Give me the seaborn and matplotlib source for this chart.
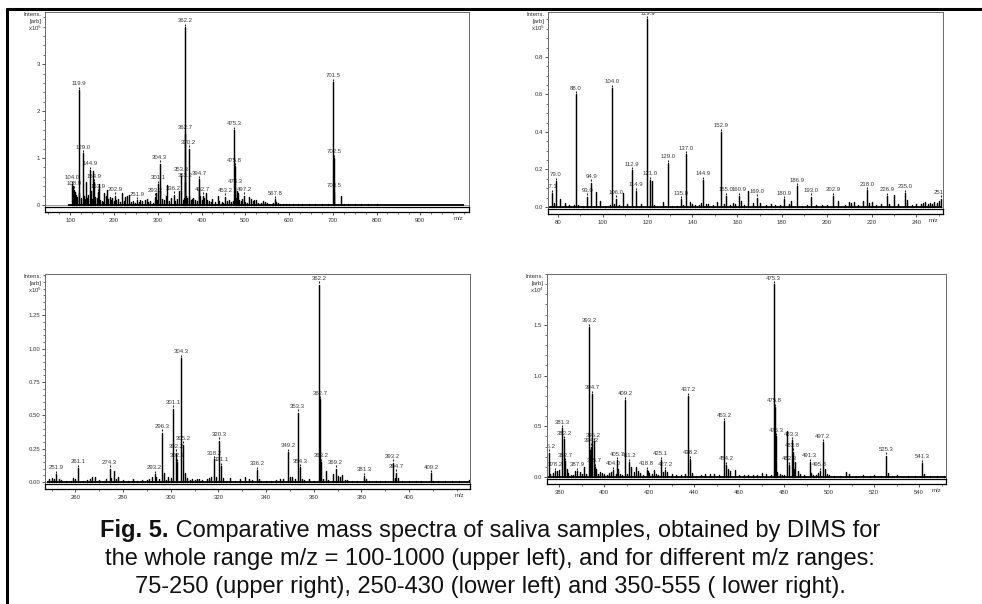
import numpy as np
import pandas as pd
import matplotlib
matplotlib.use("Agg")
import matplotlib.pyplot as plt
import matplotlib.transforms as mtrans
from matplotlib.lines import Line2D
from matplotlib.ticker import MultipleLocator, FixedLocator
import seaborn as sns

# ---------------- data ----------------
# Panel 1: upper left, m/z 100-1000, intensity x10^5
p1_mz = [104.0, 106.0, 108.9, 111.0, 113.0, 116.0, 119.9, 121.0, 124.0, 129.0, 131.0, 134.0, 136.0,
         139.0, 141.0, 144.9, 147.0, 150.0, 152.0, 154.9, 157.0, 160.0, 163.9, 166.0, 169.0, 172.0,
         175.0, 178.0, 181.0, 184.9, 187.0, 190.0, 193.0, 196.0, 199.0, 202.9, 205.0, 210.0, 214.0,
         218.0, 222.0, 226.0, 230.0, 234.0, 238.0, 243.0, 247.0, 251.9, 256.0, 260.0, 265.0, 270.0,
         274.3, 278.0, 283.0, 288.0, 293.2, 296.3, 299.0, 301.1, 304.3, 306.0, 310.0, 315.0, 318.2,
         320.3, 325.0, 330.0, 336.2, 340.0, 345.0, 349.2, 353.3, 357.0, 360.0, 362.2, 362.7, 363.2,
         365.0, 367.0, 370.2, 372.0, 375.0, 378.0, 381.3, 385.0, 389.0, 393.2, 394.7, 397.0, 400.0,
         402.7, 405.0, 409.2, 412.0, 417.0, 421.0, 425.0, 430.0, 437.2, 441.0, 446.0, 449.0, 453.2,
         458.0, 463.0, 468.0, 472.0, 475.3, 475.8, 476.3, 479.0, 481.0, 483.3, 486.0, 490.0, 492.0,
         497.2, 500.0, 503.0, 508.0, 513.0, 517.0, 521.0, 525.3, 530.0, 535.0, 541.3, 545.0, 550.0,
         555.0, 560.0, 564.0, 567.8, 571.0, 575.0, 580.0, 586.0, 592.0, 600.0, 610.0, 620.0, 630.0,
         645.0, 660.0, 675.0, 690.0, 701.5, 702.5, 703.5, 718.5, 725.0, 735.0, 750.0, 765.0, 780.0,
         800.0]
p1_int = [0.45, 0.40, 0.33, 0.28, 0.22, 0.18, 2.45, 0.25, 0.15, 1.10, 0.20, 0.12, 0.50,
          0.15, 0.22, 0.75, 0.30, 0.12, 0.73, 0.48, 0.18, 0.15, 0.27, 0.45, 0.10, 0.08,
          0.06, 0.25, 0.20, 0.32, 0.12, 0.18, 0.10, 0.15, 0.08, 0.20, 0.10, 0.12, 0.06,
          0.25, 0.08, 0.18, 0.20, 0.22, 0.06, 0.08, 0.05, 0.10, 0.07, 0.10, 0.08, 0.10,
          0.12, 0.06, 0.08, 0.05, 0.18, 0.25, 0.10, 0.45, 0.88, 0.30, 0.12, 0.10, 0.20,
          0.42, 0.08, 0.15, 0.22, 0.08, 0.12, 0.30, 0.62, 0.10, 0.15, 3.79, 1.52, 0.50,
          0.20, 0.15, 1.20, 0.20, 0.10, 0.12, 0.15, 0.10, 0.08, 0.35, 0.55, 0.20, 0.10,
          0.20, 0.15, 0.25, 0.10, 0.08, 0.06, 0.12, 0.06, 0.20, 0.08, 0.06, 0.05, 0.18,
          0.08, 0.10, 0.06, 0.08, 1.60, 0.82, 0.38, 0.15, 0.30, 0.25, 0.10, 0.08, 0.12,
          0.20, 0.06, 0.05, 0.18, 0.12, 0.08, 0.10, 0.10, 0.05, 0.04, 0.08, 0.07, 0.04,
          0.03, 0.03, 0.05, 0.12, 0.06, 0.04, 0.03, 0.02, 0.02, 0.02, 0.02, 0.015, 0.02,
          0.015, 0.02, 0.015, 0.02, 2.62, 1.00, 0.28, 0.20, 0.03, 0.02, 0.02, 0.02, 0.03,
          0.015]
p1_labels = [104.0, 108.9, 119.9, 129.0, 144.9, 154.9, 163.9, 202.9, 251.9, 293.2, 301.1, 304.3,
             336.2, 353.3, 362.2, 362.7, 363.2, 370.2, 394.7, 402.7, 453.2, 475.3, 475.8, 476.3,
             497.2, 567.8, 701.5, 702.5, 703.5]
p1_scan = [95, 1000]
p1_xticks = [100, 200, 300, 400, 500, 600, 700, 800, 900]
p1_yticks = [0, 1, 2, 3]

# Panel 2: upper right, m/z 75-250, intensity x10^5
p2_mz = [77.1, 78.0, 79.0, 81.0, 83.0, 85.0, 87.0, 88.0, 89.0, 91.0, 93.0, 94.9, 96.9, 98.9,
         101.0, 103.0, 104.0, 105.0, 106.0, 107.0, 109.0, 111.0, 112.9, 114.9, 117.0, 119.9,
         121.0, 122.0, 123.0, 127.0, 129.0, 131.0, 133.0, 135.0, 136.0, 137.0, 139.0, 140.0,
         141.0, 143.0, 144.0, 144.9, 146.0, 147.0, 149.0, 151.0, 152.9, 154.0, 155.0, 157.0,
         158.0, 159.0, 160.9, 161.9, 163.0, 165.0, 167.0, 169.0, 170.0, 173.0, 175.0, 177.0,
         179.0, 180.9, 183.0, 184.0, 186.9, 189.0, 191.0, 193.0, 195.0, 198.0, 200.0, 202.9,
         205.0, 208.0, 210.0, 211.0, 212.0, 214.0, 216.0, 218.0, 219.0, 220.0, 222.0, 224.0,
         226.9, 228.0, 229.9, 232.0, 235.0, 236.0, 238.0, 240.0, 242.0, 243.0, 244.0, 245.0,
         246.0, 247.0, 248.0, 249.0, 250.0, 251.0]
p2_int = [0.075, 0.02, 0.14, 0.04, 0.02, 0.01, 0.01, 0.60, 0.01, 0.005, 0.055, 0.13, 0.08, 0.03,
          0.005, 0.01, 0.635, 0.015, 0.045, 0.01, 0.075, 0.015, 0.195, 0.085, 0.015, 1.00,
          0.145, 0.14, 0.01, 0.025, 0.235, 0.005, 0.005, 0.04, 0.01, 0.28, 0.025, 0.015,
          0.01, 0.01, 0.02, 0.145, 0.015, 0.015, 0.01, 0.025, 0.40, 0.015, 0.06, 0.01,
          0.02, 0.015, 0.06, 0.03, 0.01, 0.085, 0.02, 0.05, 0.02, 0.01, 0.015, 0.01,
          0.01, 0.04, 0.015, 0.03, 0.11, 0.005, 0.01, 0.055, 0.01, 0.01, 0.01, 0.06,
          0.03, 0.01, 0.025, 0.02, 0.025, 0.01, 0.03, 0.09, 0.02, 0.025, 0.01, 0.015,
          0.06, 0.015, 0.065, 0.015, 0.075, 0.035, 0.01, 0.015, 0.015, 0.02, 0.025, 0.015,
          0.02, 0.015, 0.025, 0.02, 0.03, 0.045]
p2_labels = [77.1, 79.0, 88.0, 93.0, 94.9, 104.0, 106.0, 112.9, 114.9, 119.9, 121.0, 129.0,
             135.0, 137.0, 144.9, 152.9, 155.0, 160.9, 169.0, 180.9, 186.9, 193.0, 202.9,
             218.0, 226.9, 235.0, 251.0]
p2_scan = [76, 251.5]
p2_xticks = [80, 100, 120, 140, 160, 180, 200, 220, 240]
p2_yticks = [0.0, 0.2, 0.4, 0.6, 0.8]

# Panel 3: lower left, m/z 250-430, intensity x10^5
p3_mz = [249.0, 250.0, 251.0, 251.9, 253.0, 254.0, 256.0, 258.0, 259.0, 260.0, 261.1, 263.0,
         265.0, 266.0, 267.0, 268.0, 270.0, 272.0, 273.0, 274.3, 275.0, 276.0, 277.0, 278.0,
         280.0, 282.0, 284.0, 286.0, 288.0, 290.0, 291.0, 292.0, 293.2, 294.0, 295.0, 296.3,
         297.3, 298.0, 299.0, 300.0, 301.1, 302.2, 302.7, 304.3, 305.2, 306.0, 307.0, 308.0,
         309.0, 310.0, 311.0, 312.0, 313.0, 315.0, 316.0, 317.0, 318.2, 319.0, 320.3, 321.1,
         322.0, 323.0, 325.0, 327.0, 329.0, 331.0, 333.0, 334.0, 336.2, 337.0, 338.0, 340.0,
         342.0, 344.0, 346.0, 347.0, 349.2, 350.0, 351.0, 352.0, 353.3, 354.3, 355.0, 356.0,
         358.0, 360.0, 362.2, 362.7, 363.2, 364.0, 365.2, 366.0, 368.0, 369.2, 370.0, 371.0,
         372.0, 373.0, 374.0, 376.0, 378.0, 381.3, 382.0, 383.0, 386.0, 388.0, 390.0, 393.2,
         394.0, 394.7, 395.2, 397.0, 400.0, 403.0, 405.0, 409.2, 410.0, 412.0, 415.0, 418.0,
         421.0, 425.0]
p3_int = [0.02, 0.03, 0.025, 0.06, 0.02, 0.015, 0.01, 0.01, 0.03, 0.02, 0.105, 0.01,
          0.015, 0.02, 0.04, 0.035, 0.015, 0.01, 0.02, 0.10, 0.03, 0.085, 0.02, 0.04,
          0.015, 0.01, 0.02, 0.01, 0.015, 0.015, 0.025, 0.04, 0.06, 0.04, 0.02, 0.37,
          0.07, 0.015, 0.035, 0.03, 0.55, 0.22, 0.15, 0.93, 0.28, 0.07, 0.03, 0.015,
          0.02, 0.015, 0.02, 0.025, 0.015, 0.02, 0.03, 0.04, 0.17, 0.04, 0.31, 0.12,
          0.03, 0.01, 0.03, 0.01, 0.02, 0.035, 0.025, 0.015, 0.09, 0.02, 0.01, 0.01,
          0.01, 0.015, 0.02, 0.02, 0.225, 0.035, 0.035, 0.025, 0.52, 0.11, 0.02, 0.015,
          0.02, 0.01, 1.48, 0.62, 0.15, 0.02, 0.085, 0.015, 0.06, 0.10, 0.045, 0.035,
          0.05, 0.015, 0.015, 0.01, 0.01, 0.045, 0.025, 0.01, 0.01, 0.01, 0.01, 0.145,
          0.03, 0.07, 0.03, 0.01, 0.01, 0.01, 0.01, 0.065, 0.01, 0.01, 0.01, 0.008,
          0.01, 0.015]
p3_labels = [251.9, 261.1, 274.3, 293.2, 296.3, 301.1, 302.2, 302.7, 304.3, 305.2, 318.2, 320.3,
             321.1, 336.2, 349.2, 353.3, 354.3, 362.2, 362.7, 363.2, 369.2, 381.3, 393.2, 394.7,
             409.2]
p3_scan = [248, 426]
p3_xticks = [260, 280, 300, 320, 340, 360, 380, 400]
p3_yticks = [0.00, 0.25, 0.50, 0.75, 1.00, 1.25]

# Panel 4: lower right, m/z 350-555, intensity x10^4
p4_mz = [375.2, 376.0, 377.0, 378.2, 379.0, 380.0, 381.3, 382.2, 382.7, 383.5, 384.0, 385.0,
         386.0, 387.0, 387.9, 389.0, 390.0, 391.0, 392.0, 393.2, 393.7, 394.2, 394.7, 395.2,
         395.7, 396.5, 397.0, 398.0, 399.0, 400.0, 401.0, 402.0, 403.0, 404.0, 405.0, 405.7,
         406.2, 407.0, 408.0, 409.2, 410.0, 411.2, 412.0, 413.0, 414.0, 415.0, 416.0, 417.0,
         418.8, 419.5, 420.0, 421.0, 422.0, 423.0, 424.0, 425.1, 426.0, 427.2, 428.0, 430.0,
         432.0, 434.0, 436.0, 437.2, 438.2, 439.0, 441.0, 443.0, 445.0, 447.0, 449.0, 451.0,
         453.2, 454.2, 455.0, 456.0, 458.0, 460.0, 462.0, 464.0, 466.0, 468.0, 470.0, 472.0,
         474.0, 475.3, 475.8, 476.3, 477.0, 478.0, 479.0, 480.0, 481.2, 482.3, 483.3, 483.8,
         484.5, 485.0, 486.0, 487.0, 489.0, 491.3, 492.0, 493.0, 494.0, 495.0, 495.8, 497.2,
         498.0, 499.0, 500.0, 502.0, 505.0, 507.5, 509.0, 512.0, 515.0, 518.0, 520.0, 523.0,
         525.3, 526.0, 528.0, 530.0, 535.0, 538.0, 541.3, 542.0, 545.0, 548.0, 551.0]
p4_int = [0.24, 0.03, 0.04, 0.06, 0.06, 0.07, 0.48, 0.37, 0.155, 0.08, 0.04, 0.02,
          0.02, 0.06, 0.06, 0.05, 0.03, 0.10, 0.03, 1.48, 0.27, 0.30, 0.82, 0.35,
          0.10, 0.08, 0.03, 0.05, 0.04, 0.03, 0.02, 0.04, 0.05, 0.07, 0.03, 0.165,
          0.08, 0.03, 0.02, 0.76, 0.03, 0.15, 0.10, 0.05, 0.10, 0.06, 0.04, 0.02,
          0.07, 0.06, 0.04, 0.03, 0.07, 0.03, 0.02, 0.17, 0.05, 0.065, 0.05, 0.03,
          0.02, 0.015, 0.03, 0.80, 0.18, 0.04, 0.01, 0.02, 0.03, 0.025, 0.03, 0.02,
          0.55, 0.12, 0.08, 0.06, 0.07, 0.02, 0.02, 0.015, 0.02, 0.02, 0.04, 0.03,
          0.02, 1.90, 0.69, 0.40, 0.05, 0.03, 0.02, 0.02, 0.45, 0.12, 0.36, 0.25,
          0.08, 0.15, 0.06, 0.03, 0.02, 0.15, 0.04, 0.02, 0.02, 0.04, 0.06, 0.34,
          0.08, 0.03, 0.02, 0.01, 0.01, 0.05, 0.03, 0.01, 0.02, 0.01, 0.02, 0.01,
          0.21, 0.04, 0.01, 0.015, 0.01, 0.01, 0.14, 0.03, 0.01, 0.01, 0.01]
p4_labels = [375.2, 378.2, 381.3, 382.2, 382.7, 387.9, 393.2, 394.2, 394.7, 395.2, 395.7, 404.0,
             405.7, 409.2, 411.2, 418.8, 425.1, 427.2, 437.2, 438.2, 453.2, 454.2, 475.3, 475.8,
             476.3, 482.3, 483.3, 483.8, 491.3, 495.8, 497.2, 525.3, 541.3]
p4_scan = [374.5, 552]
p4_xticks = [380, 400, 420, 440, 460, 480, 500, 520, 540]
p4_yticks = [0.0, 0.5, 1.0, 1.5]

caption_bold = "Fig. 5."
caption_lines = [" Comparative mass spectra of saliva samples, obtained by DIMS for",
                 "the whole range m/z = 100-1000 (upper left), and for different m/z ranges:",
                 "75-250 (upper right), 250-430 (lower left) and 350-555 ( lower right)."]

# ---------------- drawing ----------------
sns.set_theme(style="white")
plt.rcParams["font.family"] = ["Liberation Sans", "DejaVu Sans"]

W, H = 982, 604
fig = plt.figure(figsize=(W / 100, H / 100), dpi=100)
fig.patch.set_facecolor("white")


def rect(l, t, r, b):
    return [l / W, 1 - b / H, (r - l) / W, (b - t) / H]


SMALL = 4.3


def draw_panel(mz, inten, labels, scan, l, t, r, y0, xlim, ymax, yticks, yfmt, yminor,
               xticks, xminor, exp):
    ax = fig.add_axes(rect(l, t, r, y0 + 2))
    scale = (y0 - t) / ymax
    ax.set_xlim(*xlim)
    ax.set_ylim(-2 / scale, ymax)
    mz = np.asarray(mz, float)
    inten = np.asarray(inten, float)
    df = pd.DataFrame({
        "mz": np.repeat(mz, 2),
        "I": np.column_stack([np.zeros_like(inten), inten]).ravel(),
        "pk": np.repeat(np.arange(len(mz)), 2),
    })
    ax.axhline(0, color="#8a8a8a", lw=0.6, zorder=1)
    ax.hlines(0, scan[0], scan[1], color="black", lw=1.3, zorder=2)
    sns.lineplot(data=df, x="mz", y="I", units="pk", estimator=None, sort=False,
                 color="black", lw=1.05, ax=ax, legend=False, zorder=3)
    off_dash = mtrans.offset_copy(ax.transData, fig=fig, y=2.2, units="dots")
    off_txt = mtrans.offset_copy(ax.transData, fig=fig, y=3.6, units="dots")
    for m in labels:
        h = inten[np.argmin(np.abs(mz - m))]
        ax.plot([m], [h], marker="|", ms=1.6, mew=0.8, color="#222222",
                transform=off_dash, clip_on=True, zorder=2)
        ax.text(m, h, f"{m:.1f}", transform=off_txt, ha="center", va="bottom",
                fontsize=SMALL, color="#3a3a3a", clip_on=True, zorder=1.5)
    ax.set_xlabel("")
    ax.set_ylabel("")
    ax.tick_params(axis="x", bottom=False, labelbottom=False)
    ax.yaxis.set_major_locator(FixedLocator(yticks))
    ax.set_yticklabels([yfmt.format(v) for v in yticks])
    ax.yaxis.set_minor_locator(MultipleLocator(yminor))
    ax.tick_params(axis="y", which="major", left=True, direction="out", length=2.5,
                   width=0.6, labelsize=SMALL, pad=1, colors="#333333")
    ax.tick_params(axis="y", which="minor", left=True, direction="out", length=1.5,
                   width=0.5, colors="#333333")
    for s in ax.spines.values():
        s.set_color("#6a6a6a")
        s.set_linewidth(0.7)
    ax.set_facecolor("white")

    sax = fig.add_axes(rect(l, y0 + 2, r, y0 + 7))
    sax.set_xlim(*xlim)
    sax.set_ylim(0, 1)
    sax.set_yticks([])
    sax.xaxis.set_major_locator(FixedLocator(xticks))
    sax.set_xticklabels([str(v) for v in xticks])
    sax.xaxis.set_minor_locator(MultipleLocator(xminor))
    sax.tick_params(axis="x", which="major", bottom=True, direction="out", length=2.5,
                    width=0.6, labelsize=SMALL, pad=1.5, colors="#333333")
    sax.tick_params(axis="x", which="minor", bottom=True, direction="out", length=1.5,
                    width=0.5, colors="#333333")
    for s in sax.spines.values():
        s.set_color("black")
        s.set_linewidth(0.9)
    sax.set_facecolor("white")
    sax.text(0.975, 0, "m/z", transform=mtrans.offset_copy(sax.transAxes, fig=fig, y=-4, units="dots"),
             ha="center", va="top", fontsize=SMALL, color="#333333")

    fig.text((l - 3) / W, 1 - (t + 2) / H, "Intens.", ha="right", va="center",
             fontsize=SMALL, color="#333333")
    fig.text((l - 3) / W, 1 - (t + 9) / H, "[arb]", ha="right", va="center",
             fontsize=SMALL, color="#333333")
    fig.text((l - 3) / W, 1 - (t + 16) / H, "x10$^{%d}$" % exp, ha="right", va="center",
             fontsize=SMALL, color="#333333")
    return ax


draw_panel(p1_mz, p1_int, p1_labels, p1_scan, 45, 12, 469, 205, (42.2, 1011.3), 4.11,
           p1_yticks, "{:.0f}", 0.2, p1_xticks, 25, 5)
draw_panel(p2_mz, p2_int, p2_labels, p2_scan, 548, 12, 943, 207, (75.5, 251.9), 1.04,
           p2_yticks, "{:.1f}", 0.05, p2_xticks, 10, 5)
draw_panel(p3_mz, p3_int, p3_labels, p3_scan, 45, 274, 470, 482, (247.2, 425.6), 1.56,
           p3_yticks, "{:.2f}", 0.05, p3_xticks, 10, 5)
draw_panel(p4_mz, p4_int, p4_labels, p4_scan, 547, 274, 946, 477, (374.5, 552.0), 2.0,
           p4_yticks, "{:.1f}", 0.1, p4_xticks, 10, 4)

# outer frame lines
fig.add_artist(Line2D([7 / W, 1.0], [1 - 9 / H, 1 - 9 / H], transform=fig.transFigure,
                      color="black", lw=2.2))
fig.add_artist(Line2D([7 / W, 7 / W], [0, 1 - 9 / H], transform=fig.transFigure,
                      color="black", lw=2.2))

# caption
CAP = 17
fig.canvas.draw()
renderer = fig.canvas.get_renderer()
cx = 490 / W
ys = [531, 559, 587]
tb = fig.text(0, 0, caption_bold, fontsize=CAP, fontweight="bold", color="#111111")
tn = fig.text(0, 0, caption_lines[0], fontsize=CAP, color="#111111")
wb = tb.get_window_extent(renderer).width
wn = tn.get_window_extent(renderer).width
x0 = 490 - (wb + wn) / 2
tb.set_position((x0 / W, 1 - ys[0] / H))
tb.set_va("center")
tn.set_position(((x0 + wb) / W, 1 - ys[0] / H))
tn.set_va("center")
for line, y in zip(caption_lines[1:], ys[1:]):
    fig.text(cx, 1 - y / H, line, ha="center", va="center", fontsize=CAP, color="#111111")

fig.savefig("out.png", dpi=100)
